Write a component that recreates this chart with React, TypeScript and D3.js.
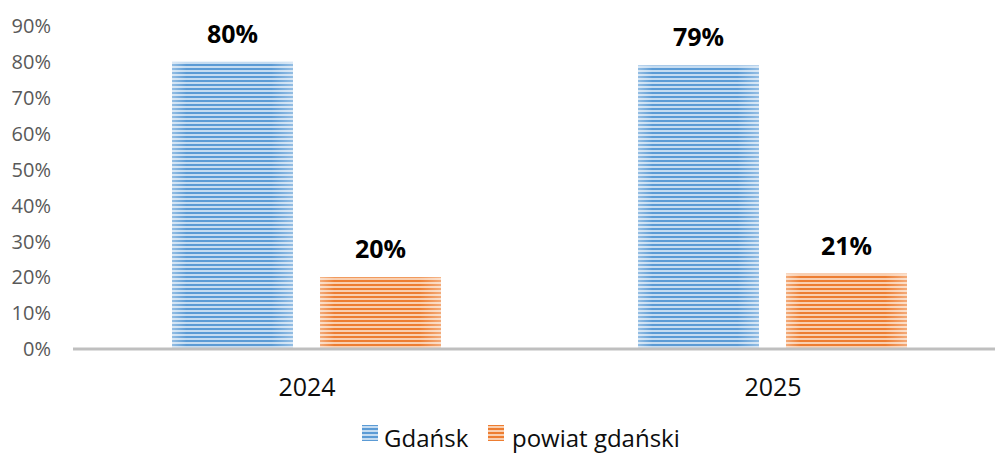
import React from "react";
import * as d3 from "d3";

// data
const years = ["2024", "2025"];
const seriesNames = ["Gdańsk", "powiat gdański"];
const gdanskValues = [0.8, 0.79];
const powiatValues = [0.2, 0.21];
const tickValues = [0, 0.1, 0.2, 0.3, 0.4, 0.5, 0.6, 0.7, 0.8, 0.9];

const W = 995;
const H = 453;
const FONT = "'Open Sans', sans-serif";

const palette = [
  { id: "pBlue", dark: "#5b9bd5", light: "#c5dcf1" },
  { id: "pOrange", dark: "#ed7d31", light: "#f9cfb0" },
];

export default function App() {
  const x = d3.scaleBand<string>().domain(years).range([74, 1006]);
  const inner = d3
    .scaleBand<string>()
    .domain(seriesNames)
    .range([98, 98 + 269])
    .paddingInner(27 / 148);
  const y = d3.scaleLinear().domain([0, 0.9]).range([349, 26]);
  const fmt = d3.format(".0%");

  const rows = years.map((yr, i) => ({
    year: yr,
    vals: [gdanskValues[i], powiatValues[i]],
  }));

  return (
    <svg
      width={W}
      height={H}
      style={{ position: "absolute", left: 0, top: 0, background: "#fff" }}
    >
      <defs>
        {palette.map((p) => (
          <pattern
            key={p.id}
            id={p.id}
            patternUnits="userSpaceOnUse"
            width={4}
            height={4}
          >
            <rect width={4} height={4} fill={p.light} />
            <rect width={4} height={2} fill={p.dark} />
          </pattern>
        ))}
        <linearGradient id="edge" x1="0" x2="1" y1="0" y2="0">
          <stop offset="0" stopColor="#fff" stopOpacity={0.35} />
          <stop offset="0.12" stopColor="#fff" stopOpacity={0} />
          <stop offset="0.82" stopColor="#fff" stopOpacity={0} />
          <stop offset="1" stopColor="#fff" stopOpacity={0.35} />
        </linearGradient>
      </defs>

      {/* y tick labels */}
      {tickValues.map((t) => (
        <text
          key={t}
          x={51}
          y={y(t)}
          dy="0.36em"
          textAnchor="end"
          fontFamily={FONT}
          fontSize={20}
          fill="#595959"
        >
          {fmt(t)}
        </text>
      ))}

      {/* bars */}
      {rows.map((r) => (
        <g key={r.year} transform={`translate(${x(r.year)},0)`}>
          {r.vals.map((v, j) => {
            const bx = inner(seriesNames[j])!;
            const bw = inner.bandwidth();
            return (
              <g key={j}>
                <rect
                  x={bx}
                  y={y(v)}
                  width={bw}
                  height={y(0) - y(v)}
                  fill={`url(#${palette[j].id})`}
                />
                <rect
                  x={bx}
                  y={y(v)}
                  width={bw}
                  height={y(0) - y(v)}
                  fill="url(#edge)"
                />
                <text
                  x={bx + bw / 2}
                  y={y(v) - 19}
                  textAnchor="middle"
                  fontFamily={FONT}
                  fontWeight="bold"
                  fontSize={25}
                  fill="#000"
                >
                  {fmt(v)}
                </text>
              </g>
            );
          })}
          <text
            x={x.bandwidth() / 2}
            y={396}
            textAnchor="middle"
            fontFamily={FONT}
            fontSize={25}
            fill="#0d0d0d"
          >
            {r.year}
          </text>
        </g>
      ))}

      {/* x axis line */}
      <line x1={73} x2={W} y1={y(0)} y2={y(0)} stroke="#bfbfbf" strokeWidth={3} />

      {/* legend */}
      <g>
        <rect x={362} y={425} width={16} height={16} fill={`url(#${palette[0].id})`} />
        <text x={384} y={447} fontFamily={FONT} fontSize={24} fill="#0d0d0d">
          {seriesNames[0]}
        </text>
        <rect x={488} y={425} width={16} height={16} fill={`url(#${palette[1].id})`} />
        <text x={512} y={447} fontFamily={FONT} fontSize={24} fill="#0d0d0d">
          {seriesNames[1]}
        </text>
      </g>
    </svg>
  );
}
